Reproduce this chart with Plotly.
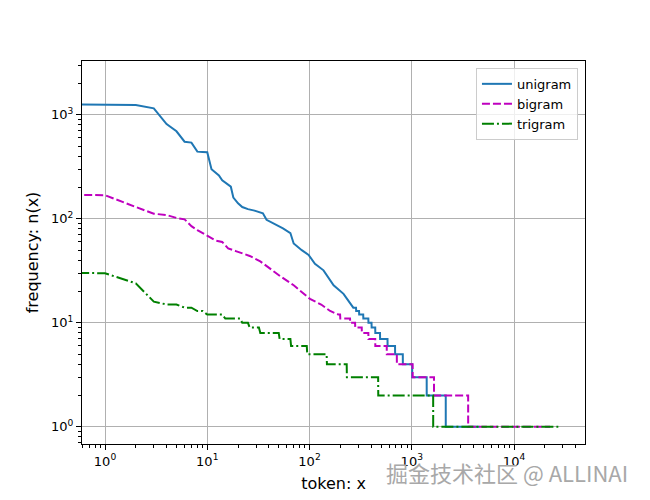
import numpy as np
import plotly.graph_objects as go

# rank (0-based index) / frequency breakpoints
unigram_rank = [0, 1, 2, 3, 4, 5, 6, 7, 8, 9, 10, 11, 12, 13, 14, 15, 16, 17, 18, 19, 20,
                22, 25, 29, 35, 38, 46, 55, 65, 70, 84, 98, 113, 137, 172, 215, 268,
                285, 286, 305, 306, 335, 336, 376, 377, 404, 405, 439, 440, 489, 490,
                579, 580, 686, 687, 817, 818, 1009, 1010, 1399, 1400, 2149, 2150, 4579]
unigram_freq = [2261, 1267, 1245, 1155, 816, 695, 552, 541, 443, 440, 437, 300, 280, 262, 235,
                225, 215, 204, 160, 150, 141,
                130, 124, 120, 113, 98, 89, 81, 73, 58, 50, 45, 37, 32, 23, 19, 14,
                14, 13, 13, 12, 12, 11, 11, 10, 10, 9, 9, 8, 8, 7,
                7, 6, 6, 5, 5, 4, 4, 3, 3, 2, 2, 1, 1]

bigram_rank = [0, 1, 2, 3, 4, 5, 6, 7, 8, 9, 10,
               12, 14, 16, 19, 26, 33, 38, 52, 70, 101, 130, 159, 192,
               199, 200, 249, 250, 279, 280, 324, 325, 376, 377, 439, 440,
               569, 570, 714, 715, 1019, 1020, 1649, 1650, 3559, 3560, 22500]
bigram_freq = [309, 169, 130, 112, 109, 102, 99, 85, 78, 73, 68,
               62, 60, 52, 49, 44, 39, 35, 28, 23, 17, 15, 13, 12,
               12, 11, 11, 10, 10, 9, 9, 8, 8, 7, 7, 6,
               6, 5, 5, 4, 4, 3, 3, 2, 2, 1, 1]

trigram_rank = [0, 1, 2, 3, 4, 5, 6, 7, 8, 9, 10, 14, 15, 21, 22, 25, 26, 32, 33, 50,
                51, 65, 66, 94, 95, 147, 148, 231, 232, 469, 470, 1619, 1620, 27100]
trigram_freq = [59, 30, 24, 16, 15, 15, 14, 14, 13, 13, 12, 12, 11, 11, 10, 10, 9, 9, 8, 8,
                7, 7, 6, 6, 5, 5, 4, 4, 3, 3, 2, 2, 1, 1]

series_names = ['unigram', 'bigram', 'trigram']
decade_ticks = [1, 10, 100, 1000, 10000]
x_tick_text = ['10<sup>0</sup>', '10<sup>1</sup>', '10<sup>2</sup>', '10<sup>3</sup>', '10<sup>4</sup>']
y_tick_text = ['10<sup>0</sup>', '10<sup>1</sup>', '10<sup>2</sup>', '10<sup>3</sup>']


def clip(r):
    # like matplotlib's log scale: index 0 gets clipped to a tiny positive value
    return np.clip(np.array(r, dtype=float), 1e-30, None)


styles = [
    dict(color='#1f77b4', width=2, dash='solid'),
    dict(color='#bf00bf', width=2, dash='8px,3px'),
    dict(color='#008000', width=2, dash='12px,3px,2px,3px'),
]

fig = go.Figure()
for name, xs, ys, st in zip(series_names,
                            [unigram_rank, bigram_rank, trigram_rank],
                            [unigram_freq, bigram_freq, trigram_freq],
                            styles):
    fig.add_trace(go.Scatter(x=clip(xs), y=ys, mode='lines', name=name, line=st))

minor_x = [k * 10.0 ** n for n in range(-1, 5) for k in range(2, 10)]
minor_y = [k * 10.0 ** n for n in range(-1, 4) for k in range(2, 10)]

axis_common = dict(
    type='log', showline=True, linecolor='black', linewidth=1, mirror=True,
    ticks='outside', ticklen=5, tickwidth=1, tickcolor='black',
    showgrid=True, gridcolor='#b0b0b0', gridwidth=1, zeroline=False,
    tickfont=dict(size=13, color='black'),
)

# the page adds ~8px body margin, so margins are shifted to compensate
fig.update_layout(
    width=650, height=500,
    margin=dict(l=74, r=73, t=53, b=64),
    paper_bgcolor='white', plot_bgcolor='white',
    font=dict(family='DejaVu Sans', size=13, color='black'),
    xaxis=dict(axis_common, range=[-0.225, 4.694], tickmode='array',
               tickvals=decade_ticks, ticktext=x_tick_text,
               minor=dict(tickmode='array', tickvals=minor_x, ticks='outside',
                          ticklen=3, tickcolor='black', showgrid=False),
               title=dict(text='token: x', standoff=10)),
    yaxis=dict(axis_common, range=[-0.165, 3.518], tickmode='array',
               tickvals=decade_ticks[:4], ticktext=y_tick_text,
               minor=dict(tickmode='array', tickvals=minor_y, ticks='outside',
                          ticklen=3, tickcolor='black', showgrid=False),
               title=dict(text='frequency: n(x)', standoff=8)),
    legend=dict(x=0.986, y=0.982, xanchor='right', yanchor='top',
                bgcolor='rgba(255,255,255,0.8)', bordercolor='#cccccc', borderwidth=1,
                font=dict(size=13), tracegroupgap=0),
    showlegend=True,
)

fig.add_annotation(text='掘金技术社区 @ ALLINAI', xref='paper', yref='paper',
                   x=0.845, y=-0.073, xanchor='center', yanchor='middle', showarrow=False,
                   font=dict(family='Noto Sans CJK SC', size=22, color='#a8a8a8'))

fig.write_html('out.html')
